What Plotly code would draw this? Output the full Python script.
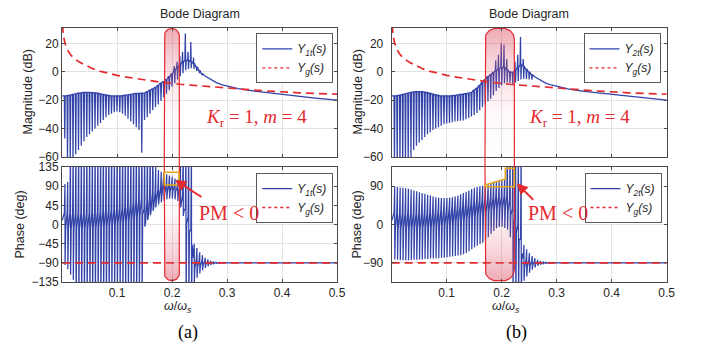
import numpy as np
import plotly.graph_objects as go

W, H = 701, 348

# ---------------- data ----------------
# comb (repetitive-control) tooth frequencies, omega/omega_s
COMB_F = [0.005, 0.010, 0.015, 0.020, 0.025, 0.030, 0.035, 0.040, 0.045, 0.050,
          0.055, 0.060, 0.065, 0.070, 0.075, 0.080, 0.085, 0.090, 0.095, 0.100,
          0.105, 0.110, 0.115, 0.120, 0.125, 0.130, 0.135, 0.140, 0.145, 0.150,
          0.155, 0.160, 0.165, 0.170, 0.175, 0.180, 0.185, 0.190, 0.195, 0.200,
          0.205, 0.210, 0.215, 0.220, 0.225, 0.230, 0.235, 0.240, 0.245, 0.250,
          0.255, 0.260, 0.265, 0.270, 0.275, 0.280, 0.285, 0.290, 0.295, 0.300]

# |Y1t| (dB): level between notches, notch bottoms (first 51 teeth), spikes
MAG1_BASE = [-17, -16.8, -16.5, -16, -15.5, -15, -14.8, -14.5, -14.5, -14.5,
             -14.6, -14.8, -15, -15.5, -16, -16.3, -16.6, -17, -17, -17,
             -17, -16.8, -16.5, -16.2, -15.9, -15.5, -15.3, -15.2, -15.1, -15,
             -14, -13, -12, -11, -9.5, -8, -7, -5.5, -3.5, -1.5,
             1, 3, 5, 7, 8, 8, 7, 6, 3.5, 1,
             -1.5]
MAG1_LO = [-47, -65, -65, -62, -58, -55, -52, -49, -46, -44,
           -42, -40, -38, -36, -34, -32, -30.5, -29.5, -28.5, -28,
           -28.5, -29.5, -31, -33, -35, -37, -39, -41, -57, -34,
           -32, -29.5, -27, -25, -23, -20.5, -18, -15.5, -13, -10.5,
           -8, -5.5, -3, -1, 1, 2, 2.5, 2, 0.5, -1,
           -2.5]
MAG1_SPIKE_F = [0.205, 0.210, 0.215, 0.220, 0.225, 0.230, 0.235, 0.240]
MAG1_SPIKE_DB = [4, 7, 11, 14, 27, 14, 21, 10]

# |Y2t| (dB)
MAG2_BASE = [-17, -16.8, -16.5, -16, -15.5, -15, -14.5, -14.2, -14, -14,
             -14, -14.3, -14.7, -15.2, -15.7, -16.2, -16.6, -17, -17, -17,
             -17, -16.8, -16.6, -16.3, -16, -15.7, -15.4, -15, -14.5, -13,
             -11.5, -9.5, -7.5, -5.5, -3.5, -2, -0.5, 1, 2, 3,
             3, 1.5, 0, -0.5, 1, 3, 5, 4, 2, 0,
             -2]
MAG2_LO = [-65, -65, -65, -65, -65, -65, -60, -55, -52, -50,
           -48, -46, -44, -42.5, -41, -40, -39, -38, -37, -36.5,
           -36, -35.5, -35, -34.7, -34.5, -34.3, -33.5, -32.5, -31.5, -30.5,
           -29, -27, -25, -23, -21, -19, -16.5, -13.5, -11.5, -9.5,
           -8, -7.5, -8, -8.5, -7.5, -6.5, -5.5, -5, -5, -5.5,
           -5.5]
MAG2_SPIKE_F = [0.190, 0.195, 0.200, 0.205, 0.210, 0.225, 0.230, 0.235, 0.240]
MAG2_SPIKE_DB = [8, 12, 20, 19, 9, 7, 12, 24.5, 9]

# smooth high-frequency part of both magnitudes
TAIL_F = [0.26, 0.27, 0.28, 0.29, 0.30, 0.32, 0.35, 0.38, 0.40, 0.43, 0.46, 0.50]
MAG1_TAIL = [-3, -5.5, -7.5, -9, -10, -11.8, -13.6, -15, -15.8, -17.2, -18.5, -20]
MAG2_TAIL = [-3.5, -6, -8, -9.3, -10.3, -12, -13.8, -15.1, -15.9, -17.2, -18.5, -20]

# phase of Y1t (deg): swing top, swing bottom, mean level per tooth (values beyond +-135 wrap)
PH1_HI = [95, 100, 190, 190, 190, 190, 190, 190, 190, 190,
          190, 190, 190, 190, 190, 190, 190, 190, 190, 190,
          190, 190, 190, 190, 190, 190, 190, 190, 190, 190,
          190, 190, 190, 135, 128, 124, 121, 118, 115, 112,
          108, 105, 190, 190, 190, 190, 190, -45, -55, -65,
          -72, -78, -82, -85, -87, -88, -89, -89.5, -89.8, -90]
PH1_LO = [-95, -105, -118, -130, -190, -190, -190, -190, -190, -190,
          -190, -190, -190, -190, -190, -190, -190, -190, -190, -190,
          -190, -190, -190, -190, -190, -190, -190, -190, -190, -5,
          10, 22, 32, 40, 47, 52, 56, 59, 61, 61,
          59, 55, 40, 20, -190, -190, -190, -135, -125, -115,
          -108, -102, -98, -95, -93, -92, -91, -90.5, -90.2, -90]
PH1_BASE = [10, 9, 8, 8, 8, 8, 8, 8, 9, 9,
            10, 10, 11, 12, 13, 14, 15, 16, 17, 18,
            20, 22, 24, 26, 29, 32, 35, 38, 41, 20,
            35, 47, 57, 65, 72, 77, 81, 84, 86, 86,
            84, 80, 70, 50, 20, 0, -30, -90, -90, -90,
            -90, -90, -90, -90, -90, -90, -90, -90, -90, -90]

# phase of Y2t (deg)
PH2_HI = [88, 88, 87, 86, 85, 84, 82, 80, 78, 76,
          74, 72, 70, 68, 66, 64, 63, 62, 62, 62,
          63, 64, 66, 68, 71, 74, 77, 80, 83, 86,
          88, 90, 91, 93, 95, 97, 99, 101, 103, 105,
          107, 190, 190, 190, 190, 190, 190, -48, -58, -67,
          -74, -79, -83, -85.5, -87, -88, -89, -89.5, -89.8, -90]
PH2_LO = [-82, -83, -84, -84, -84, -84, -84, -83, -83, -82,
          -82, -81, -81, -80, -80, -79, -79, -78, -78, -77,
          -76, -75, -74, -73, -72, -70, -67, -63, -58, -54,
          -50, -46, -43, -38, -30, -22, -15, -9, -6, -5,
          -8, -12, -30, -190, -190, -190, -190, -132, -122, -113,
          -106, -101, -97, -94.5, -93, -92, -91, -90.5, -90.2, -90]
PH2_BASE = [10, 9, 8, 8, 8, 8, 8, 8, 8, 8,
            9, 9, 10, 10, 11, 12, 13, 14, 15, 16,
            18, 20, 22, 24, 26, 28, 30, 32, 34, 36,
            38, 40, 42, 44, 46, 48, 50, 52, 52, 52,
            52, 50, 40, 20, 0, -20, -50, -90, -90, -90,
            -90, -90, -90, -90, -90, -90, -90, -90, -90, -90]
PH_TAIL_F = [0.31, 0.50]
PH_TAIL = [-90, -90]

# grid admittance Yg
YG_F = [0.0008, 0.002, 0.003, 0.0055, 0.009, 0.0145, 0.022, 0.033, 0.045, 0.057,
        0.07, 0.087, 0.1, 0.118, 0.142, 0.178, 0.2145, 0.251, 0.29, 0.324,
        0.37, 0.43, 0.5]
YG_MAG = [33, 27.5, 24.5, 20, 16, 12.5, 9.3, 6.5, 4, 2,
          0.3, -1.4, -2.5, -3.8, -5.2, -7.3, -8.8, -10, -11.2, -12.3,
          -13.5, -14.8, -15.8]
YG_PH_F = [0.0, 0.5]
YG_PH = [-90, -90]

X_TICKS = [0.1, 0.2, 0.3, 0.4, 0.5]
MAG_TICKS = [-60, -40, -20, 0, 20]
PH1_TICKS = [-135, -90, -45, 0, 45, 90, 135]
PH2_TICKS = [-90, 0, 90]

# highlighted bands (omega/omega_s) and PM<0 markers
BAND1 = [0.186, 0.2133]
BAND2 = [0.1696, 0.223]
BOX1_F = [0.186, 0.2127]
BOX1_PH = [92.7, 122.5]
POLY2_F = [0.1696, 0.2066, 0.2066, 0.223, 0.223, 0.1696]
POLY2_PH = [92.7, 106.8, 132, 132, 88.7, 88.7]

# ---------------- style ----------------
BLUE = '#3142A8'
RED = '#E52A2F'
EDGE = 'rgb(228,40,48)'
YELLOW = '#E6A61A'
AXC = '#4a4a4a'
GRID = '#e2e2e2'
TXT = '#262626'
SANS = 'Liberation Sans, Arial, sans-serif'
SERIF = 'Liberation Serif, Times New Roman, serif'

L_X0, L_X1 = 62, 337
R_X0, R_X1 = 391.7, 666.7
MAG_T, MAG_B = 28, 157
PH_T, PH_B = 167, 282
MAG_RANGE = [-60, 30.8]
PH_RANGE = [-135, 135]
PX_PER_F = (L_X1 - L_X0) / 0.5
PX_PER_DB = (MAG_B - MAG_T) / (MAG_RANGE[1] - MAG_RANGE[0])
PX_PER_DEG = (PH_B - PH_T) / 270.0


def px(x):
    return x / W


def py(y):
    return 1 - y / H


def mag_curve(base, lo, spike_f, spike_v, tail_f, tail_v):
    spikes = dict(zip(spike_f, spike_v))
    xs, ys = [0.0005], [base[0]]
    for fk, b, l in zip(COMB_F[:len(base)], base, lo):
        h = spikes.get(fk, b)
        xs += [fk - 0.0016, fk - 0.0008, fk, fk + 0.0009]
        ys += [b, h, l, b]
    return xs + list(tail_f), ys + list(tail_v)


def phase_curve(hi, lo, base, tail_f, tail_v):
    xs, ys = [0.0005], [base[0]]
    for fk, h, l, b in zip(COMB_F, hi, lo, base):
        band = min(18.0, (h - l) / 8.0)
        xs += [fk - 0.0007, fk + 0.0004, fk + 0.0006, fk + 0.0017]
        ys += [b + band, h, l, b - band]
    return xs + list(tail_f), ys + list(tail_v)


def capsule(x0, x1, yflat, yend, r_px, ppy, top):
    rx = min(r_px / PX_PER_F, (x1 - x0) / 2)
    ry = r_px / ppy
    t = np.linspace(0, np.pi / 2, 14)
    s = 1 if top else -1
    lx = list(x0 + rx - rx * np.cos(t))
    ly = list(yflat - s * ry + s * ry * np.sin(t))
    rxs = list(x1 - rx + rx * np.sin(t))
    rys = list(yflat - s * ry + s * ry * np.cos(t))
    return [x0] + lx + rxs + [x1], [yend] + ly + rys + [yend]


fig = go.Figure()

panels = [
    dict(xm='x', ym='y', xp='x2', yp='y2', lm='legend', lp='legend2', name='<i>Y</i><sub><i>1t</i></sub><i>(s)</i>',
         mag=mag_curve(MAG1_BASE, MAG1_LO, MAG1_SPIKE_F, MAG1_SPIKE_DB, TAIL_F, MAG1_TAIL),
         ph=phase_curve(PH1_HI, PH1_LO, PH1_BASE, PH_TAIL_F, PH_TAIL), band=BAND1, r=7.5),
    dict(xm='x3', ym='y3', xp='x4', yp='y4', lm='legend3', lp='legend4', name='<i>Y</i><sub><i>2t</i></sub><i>(s)</i>',
         mag=mag_curve(MAG2_BASE, MAG2_LO, MAG2_SPIKE_F, MAG2_SPIKE_DB, TAIL_F, MAG2_TAIL),
         ph=phase_curve(PH2_HI, PH2_LO, PH2_BASE, PH_TAIL_F, PH_TAIL), band=BAND2, r=11),
]
YG_NAME = '<i>Y</i><sub><i>g</i></sub><i>(s)</i>'
PINK0 = 'rgba(222,86,106,0)'

for i, p in enumerate(panels):
    for key, xa, ya, lg, ygx, ygy in [('mag', p['xm'], p['ym'], p['lm'], YG_F, YG_MAG),
                                      ('ph', p['xp'], p['yp'], p['lp'], YG_PH_F, YG_PH)]:
        gx, gy = p[key]
        fig.add_trace(go.Scatter(x=gx, y=gy, mode='lines', name=p['name'], xaxis=xa, yaxis=ya,
                                 line=dict(color=BLUE, width=1.25), legend=lg, legendgroup=lg + 'a',
                                 hoverinfo='skip'))
        fig.add_trace(go.Scatter(x=ygx, y=ygy, mode='lines', xaxis=xa, yaxis=ya, showlegend=False,
                                 line=dict(color=RED, width=1.7, dash='8px,5px'), hoverinfo='skip'))
        fig.add_trace(go.Scatter(x=[None], y=[None], mode='lines', name=YG_NAME, xaxis=xa, yaxis=ya,
                                 line=dict(color=RED, width=1.3, dash='dot'), legend=lg,
                                 legendgroup=lg + 'b'))
    # translucent highlight capsule (magnitude part, rounded on top)
    b0, b1 = p['band']
    cx, cy = capsule(b0, b1, MAG_RANGE[1] - 0.3, MAG_RANGE[0], p['r'], PX_PER_DB, True)
    fig.add_trace(go.Scatter(x=cx, y=cy, mode='lines', xaxis=p['xm'], yaxis=p['ym'], showlegend=False,
                             line=dict(color=EDGE, width=1.2), fill='toself', hoverinfo='skip',
                             fillgradient=dict(type='vertical', colorscale=[
                                 [0, PINK0], [0.35, 'rgba(222,86,106,0.04)'],
                                 [0.75, 'rgba(222,86,106,0.25)'], [1, 'rgba(222,86,106,0.5)']])))
    cx, cy = capsule(b0, b1, PH_RANGE[0] + 1.3 / PX_PER_DEG, PH_RANGE[1], p['r'], PX_PER_DEG, False)
    fig.add_trace(go.Scatter(x=cx, y=cy, mode='lines', xaxis=p['xp'], yaxis=p['yp'], showlegend=False,
                             line=dict(color=EDGE, width=1.2), fill='toself', hoverinfo='skip',
                             fillgradient=dict(type='vertical', colorscale=[
                                 [0, 'rgba(222,86,106,0.5)'], [0.25, 'rgba(222,86,106,0.25)'],
                                 [0.6, 'rgba(222,86,106,0.04)'], [1, PINK0]])))

# ---------------- axes ----------------
xcommon = dict(range=[0, 0.5], tickvals=X_TICKS, showgrid=True, gridcolor=GRID, gridwidth=1,
               zeroline=False, showline=True, linecolor=AXC, linewidth=1, mirror='ticks',
               ticks='inside', ticklen=3, tickcolor=AXC, automargin=False,
               tickfont=dict(family=SANS, size=12, color=TXT))
ycommon = dict(showgrid=True, gridcolor=GRID, gridwidth=1, zeroline=False, showline=True,
               linecolor=AXC, linewidth=1, mirror='ticks', ticks='inside', ticklen=3,
               tickcolor=AXC, automargin=False, tickfont=dict(family=SANS, size=12, color=TXT))

fig.update_layout(
    xaxis=dict(xcommon, domain=[px(L_X0), px(L_X1)], anchor='y', showticklabels=False),
    yaxis=dict(ycommon, domain=[py(MAG_B), py(MAG_T)], anchor='x', range=MAG_RANGE,
               tickvals=MAG_TICKS),
    xaxis2=dict(xcommon, domain=[px(L_X0), px(L_X1)], anchor='y2'),
    yaxis2=dict(ycommon, domain=[py(PH_B), py(PH_T)], anchor='x2', range=PH_RANGE,
                tickvals=PH1_TICKS),
    xaxis3=dict(xcommon, domain=[px(R_X0), px(R_X1)], anchor='y3', showticklabels=False),
    yaxis3=dict(ycommon, domain=[py(MAG_B), py(MAG_T)], anchor='x3', range=MAG_RANGE,
                tickvals=MAG_TICKS, ticklabelstandoff=5),
    xaxis4=dict(xcommon, domain=[px(R_X0), px(R_X1)], anchor='y4'),
    yaxis4=dict(ycommon, domain=[py(PH_B), py(PH_T)], anchor='x4', range=PH_RANGE,
                tickvals=PH2_TICKS, ticklabelstandoff=5),
)

lgc = dict(bgcolor='white', bordercolor='#5a5a5a', borderwidth=1, xanchor='right', yanchor='top',
           font=dict(family=SANS, size=12, color=TXT), tracegroupgap=3, traceorder='normal')
fig.update_layout(
    legend=dict(lgc, x=px(333.3), y=py(33.3)),
    legend2=dict(lgc, x=px(333.3), y=py(173)),
    legend3=dict(lgc, x=px(660.5), y=py(33.3)),
    legend4=dict(lgc, x=px(661.5), y=py(173)),
)

# ---------------- shapes ----------------
shapes = []
for b, xr in [(BAND1, 'x'), (BAND2, 'x3')]:
    for xv in b:
        shapes.append(dict(type='line', xref=xr, yref='paper', x0=xv, x1=xv,
                           y0=py(MAG_B), y1=py(PH_T), line=dict(color=EDGE, width=1.2)))
shapes.append(dict(type='rect', xref='x2', yref='y2', x0=BOX1_F[0], x1=BOX1_F[1],
                   y0=BOX1_PH[0], y1=BOX1_PH[1], line=dict(color=YELLOW, width=1.6)))
path = 'M ' + ' L '.join(f'{a},{b}' for a, b in zip(POLY2_F, POLY2_PH)) + ' Z'
shapes.append(dict(type='path', xref='x4', yref='y4', path=path, line=dict(color=YELLOW, width=1.6)))
fig.update_layout(shapes=shapes)

# ---------------- annotations ----------------
ann = []


def label(text, x, y, font, angle=0):
    ann.append(dict(text=text, x=px(x), y=py(y), xref='paper', yref='paper', showarrow=False,
                    xanchor='center', yanchor='middle', textangle=angle, font=font))


tfont = dict(family=SANS, size=12.5, color=TXT)
for cx in [(L_X0 + L_X1) / 2, (R_X0 + R_X1) / 2]:
    label('Bode Diagram', cx, 14, tfont)
for cx in [28, 358]:
    label('Magnitude (dB)', cx, (MAG_T + MAG_B) / 2, tfont, -90)
for cx in [20, 357]:
    label('Phase (deg)', cx, (PH_T + PH_B) / 2, tfont, -90)
for cx in [256, 579]:
    label('<i>K</i><sub>r</sub> = 1, <i>m</i> = 4', cx, 118, dict(family=SERIF, size=19, color=RED))
for cx in [229, 557.5]:
    label('PM &lt; 0', cx, 212.5, dict(family=SERIF, size=20, color=RED))
for cx in [178, 506]:
    label('<i>ω</i>/<i>ω</i><sub><i>s</i></sub>', cx, 307, tfont)
for cx, lab in [(188, '(a)'), (516.5, '(b)')]:
    label(lab, cx, 332, dict(family=SERIF, size=18, color='black'))
ann.append(dict(text='', x=0.2055, y=104.5, xref='x2', yref='y2', showarrow=True, ax=28, ay=18,
                arrowcolor=RED, arrowwidth=2, arrowhead=2, arrowsize=1.1))
ann.append(dict(text='', x=0.2273, y=96.7, xref='x4', yref='y4', showarrow=True, ax=18, ay=18,
                arrowcolor=RED, arrowwidth=2, arrowhead=2, arrowsize=1.1))
fig.update_layout(annotations=ann)

fig.update_layout(width=W, height=H, margin=dict(l=0, r=0, t=0, b=0),
                  paper_bgcolor='white', plot_bgcolor='white', hovermode=False)

fig.write_html('out.html')
